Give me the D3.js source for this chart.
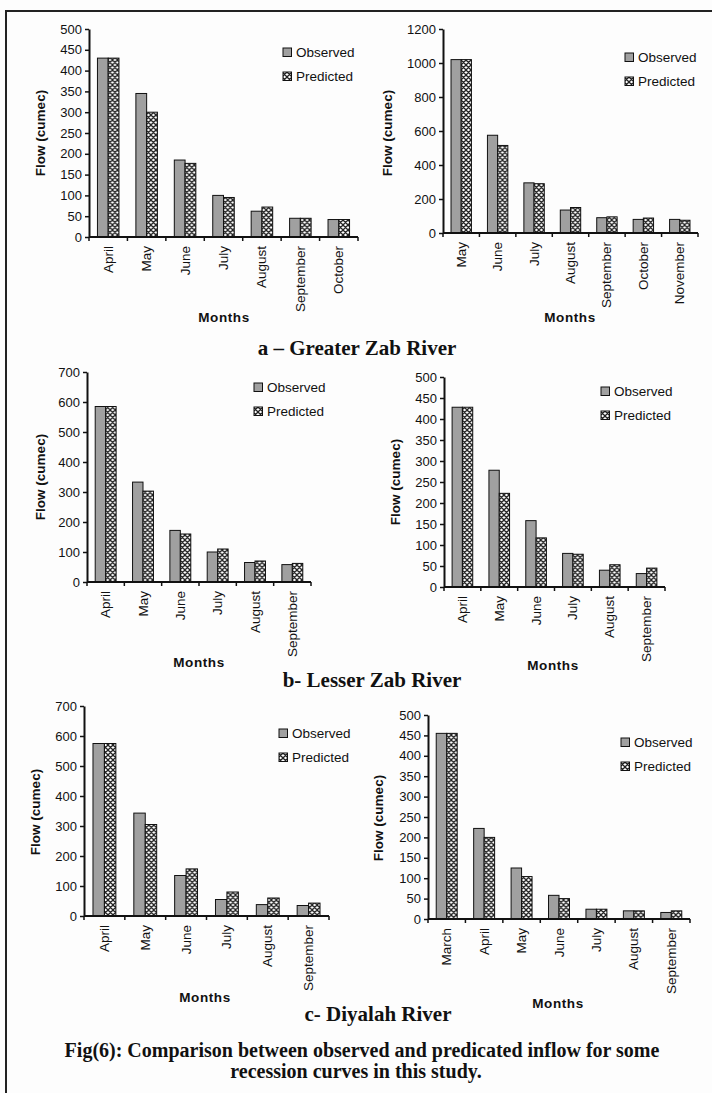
<!DOCTYPE html>
<html>
<head>
<meta charset="utf-8">
<script src="https://cdn.jsdelivr.net/npm/d3@7"></script>
<style>
  body { margin: 0; background: #fff; }
  svg { display: block; }
</style>
</head>
<body>
<div id="chart"></div>
<script>
// a - Greater Zab River
var gzMonths1 = ["April", "May", "June", "July", "August", "September", "October"];
var gzObserved1 = [430, 345, 185, 100, 62, 45, 42];
var gzPredicted1 = [430, 300, 177, 95, 72, 45, 42];
var gzMonths2 = ["May", "June", "July", "August", "September", "October", "November"];
var gzObserved2 = [1020, 575, 295, 135, 90, 80, 80];
var gzPredicted2 = [1020, 515, 290, 150, 95, 88, 75];

// b - Lesser Zab River
var lzMonths1 = ["April", "May", "June", "July", "August", "September"];
var lzObserved1 = [585, 333, 172, 100, 65, 58];
var lzPredicted1 = [585, 303, 160, 110, 70, 62];
var lzMonths2 = ["April", "May", "June", "July", "August", "September"];
var lzObserved2 = [428, 278, 158, 80, 40, 32];
var lzPredicted2 = [428, 223, 117, 78, 53, 45];

// c - Diyalah River
var dyMonths1 = ["April", "May", "June", "July", "August", "September"];
var dyObserved1 = [575, 343, 135, 55, 38, 35];
var dyPredicted1 = [575, 305, 157, 80, 60, 43];
var dyMonths2 = ["March", "April", "May", "June", "July", "August", "September"];
var dyObserved2 = [455, 222, 125, 58, 24, 20, 16];
var dyPredicted2 = [455, 200, 104, 50, 24, 20, 20];

var seriesNames = ["Observed", "Predicted"];
var captions = ["a \u2013 Greater Zab River", "b- Lesser Zab River", "c- Diyalah River"];
var figCaption = ["Fig(6): Comparison between observed and predicated inflow for some",
                  "recession curves in this study."];

// panel placement on the page
var panels = [
  {months: gzMonths1, obs: gzObserved1, pred: gzPredicted1, max: 500, step: 50,
   x0: 89, x1: 358, top: 29, bottom: 237, legend: [287, 52], monthsLab: [224, 317], flowLab: [40, 133]},
  {months: gzMonths2, obs: gzObserved2, pred: gzPredicted2, max: 1200, step: 200,
   x0: 443, x1: 698, top: 29, bottom: 233, legend: [629, 57], monthsLab: [570, 317], flowLab: [387, 133]},
  {months: lzMonths1, obs: lzObserved1, pred: lzPredicted1, max: 700, step: 100,
   x0: 87, x1: 311, top: 372, bottom: 582, legend: [258, 387], monthsLab: [199, 662], flowLab: [40, 477]},
  {months: lzMonths2, obs: lzObserved2, pred: lzPredicted2, max: 500, step: 50,
   x0: 444, x1: 665, top: 377, bottom: 587, legend: [605, 391], monthsLab: [553, 665], flowLab: [395, 482]},
  {months: dyMonths1, obs: dyObserved1, pred: dyPredicted1, max: 700, step: 100,
   x0: 84, x1: 329, top: 706, bottom: 916, legend: [283, 733], monthsLab: [205, 997], flowLab: [35, 812]},
  {months: dyMonths2, obs: dyObserved2, pred: dyPredicted2, max: 500, step: 50,
   x0: 428, x1: 690, top: 715, bottom: 919, legend: [625, 742], monthsLab: [558, 1003], flowLab: [378, 818]}
];

var W = 712, H = 1093;
var sans = "'Liberation Sans', Arial, Helvetica, sans-serif";
var serif = "'Liberation Serif', 'Times New Roman', serif";

var svg = d3.select("#chart").append("svg")
  .attr("width", W)
  .attr("height", H);

var defs = svg.append("defs");
var pat = defs.append("pattern")
  .attr("id", "hatch")
  .attr("patternUnits", "userSpaceOnUse")
  .attr("width", 5)
  .attr("height", 5);
pat.append("rect").attr("width", 5).attr("height", 5).attr("fill", "#fff");
pat.append("path")
  .attr("d", "M0,0L5,5M5,0L0,5M-1,4L1,6M4,-1L6,1M4,6L6,4M-1,1L1,-1")
  .attr("stroke", "#222")
  .attr("stroke-width", 1.3);

var fills = ["#a0a0a0", "url(#hatch)"];

svg.append("rect").attr("width", W).attr("height", H).attr("fill", "#fdfdfd");

// page frame (top + left)
svg.append("path")
  .attr("d", "M6,1093V11H712")
  .attr("fill", "none")
  .attr("stroke", "#222")
  .attr("stroke-width", 2);

panels.forEach(function(p) {
  var g = svg.append("g");

  var x = d3.scaleBand()
    .domain(p.months)
    .range([p.x0, p.x1])
    .paddingInner(0.44)
    .paddingOuter(0.22);

  var y = d3.scaleLinear()
    .domain([0, p.max])
    .range([p.bottom, p.top]);

  var xs = d3.scaleBand()
    .domain([0, 1])
    .range([0, x.bandwidth()]);

  var rows = p.months.map(function(m, i) { return {month: m, vals: [p.obs[i], p.pred[i]]}; });

  var grp = g.selectAll(".month")
    .data(rows)
    .enter().append("g")
    .attr("transform", function(d) { return "translate(" + x(d.month) + ",0)"; });

  grp.selectAll("rect")
    .data(function(d) { return d.vals; })
    .enter().append("rect")
    .attr("x", function(d, i) { return xs(i); })
    .attr("y", function(d) { return y(d); })
    .attr("width", xs.bandwidth())
    .attr("height", function(d) { return p.bottom - y(d); })
    .attr("fill", function(d, i) { return fills[i]; })
    .attr("stroke", "#111")
    .attr("stroke-width", 1);

  // y axis
  var yAxis = g.append("g")
    .attr("transform", "translate(" + p.x0 + ",0)")
    .call(d3.axisLeft(y)
      .tickValues(d3.range(0, p.max + p.step / 2, p.step))
      .tickFormat(d3.format("d"))
      .tickSize(4)
      .tickSizeOuter(0)
      .tickPadding(3));
  yAxis.select(".domain").attr("stroke", "#111").attr("stroke-width", 2);
  yAxis.selectAll(".tick line").attr("stroke", "#111").attr("stroke-width", 1.5);
  yAxis.selectAll("text")
    .style("font-family", sans)
    .style("font-size", "13px")
    .attr("fill", "#111");

  // x axis: line with ticks between the months
  var step = x.step();
  g.append("line")
    .attr("x1", p.x0).attr("x2", p.x1)
    .attr("y1", p.bottom).attr("y2", p.bottom)
    .attr("stroke", "#111").attr("stroke-width", 2);
  g.selectAll(".xtick")
    .data(d3.range(p.months.length + 1))
    .enter().append("line")
    .attr("x1", function(i) { return p.x0 + i * step; })
    .attr("x2", function(i) { return p.x0 + i * step; })
    .attr("y1", p.bottom).attr("y2", p.bottom + 4)
    .attr("stroke", "#111").attr("stroke-width", 1.5);

  g.selectAll(".xlab")
    .data(p.months)
    .enter().append("text")
    .attr("transform", function(d) {
      return "translate(" + (x(d) + x.bandwidth() / 2 + 4.5) + "," + (p.bottom + 9) + ") rotate(-90)";
    })
    .attr("text-anchor", "end")
    .style("font-family", sans)
    .style("font-size", "13.5px")
    .attr("fill", "#111")
    .text(function(d) { return d; });

  // axis titles
  g.append("text")
    .attr("x", p.monthsLab[0]).attr("y", p.monthsLab[1] + 5)
    .attr("text-anchor", "middle")
    .style("font-family", sans)
    .style("font-size", "13.5px")
    .style("font-weight", "bold")
    .style("letter-spacing", "0.6px")
    .attr("fill", "#111")
    .text("Months");

  g.append("text")
    .attr("transform", "translate(" + (p.flowLab[0] + 5) + "," + p.flowLab[1] + ") rotate(-90)")
    .attr("text-anchor", "middle")
    .style("font-family", sans)
    .style("font-size", "13.5px")
    .style("font-weight", "bold")
    .attr("fill", "#111")
    .text("Flow (cumec)");

  // legend
  var lg = g.append("g")
    .attr("transform", "translate(" + p.legend[0] + "," + p.legend[1] + ")");
  seriesNames.forEach(function(name, i) {
    lg.append("rect")
      .attr("x", -4).attr("y", i * 24 - 4)
      .attr("width", 8.5).attr("height", 8.5)
      .attr("fill", fills[i])
      .attr("stroke", "#111").attr("stroke-width", 1);
    lg.append("text")
      .attr("x", 9).attr("y", i * 24 + 5)
      .style("font-family", sans)
      .style("font-size", "13.5px")
      .attr("fill", "#111")
      .text(name);
  });
});

// river captions
var capPos = [[357, 355], [372, 687], [378, 1021]];
captions.forEach(function(c, i) {
  svg.append("text")
    .attr("x", capPos[i][0]).attr("y", capPos[i][1])
    .attr("text-anchor", "middle")
    .style("font-family", serif)
    .style("font-size", "21px")
    .style("font-weight", "bold")
    .attr("fill", "#111")
    .text(c);
});

var figPos = [[362, 1057], [356, 1078]];
figCaption.forEach(function(c, i) {
  svg.append("text")
    .attr("x", figPos[i][0]).attr("y", figPos[i][1])
    .attr("text-anchor", "middle")
    .style("font-family", serif)
    .style("font-size", "20px")
    .style("font-weight", "bold")
    .attr("fill", "#111")
    .text(c);
});
</script>
</body>
</html>
